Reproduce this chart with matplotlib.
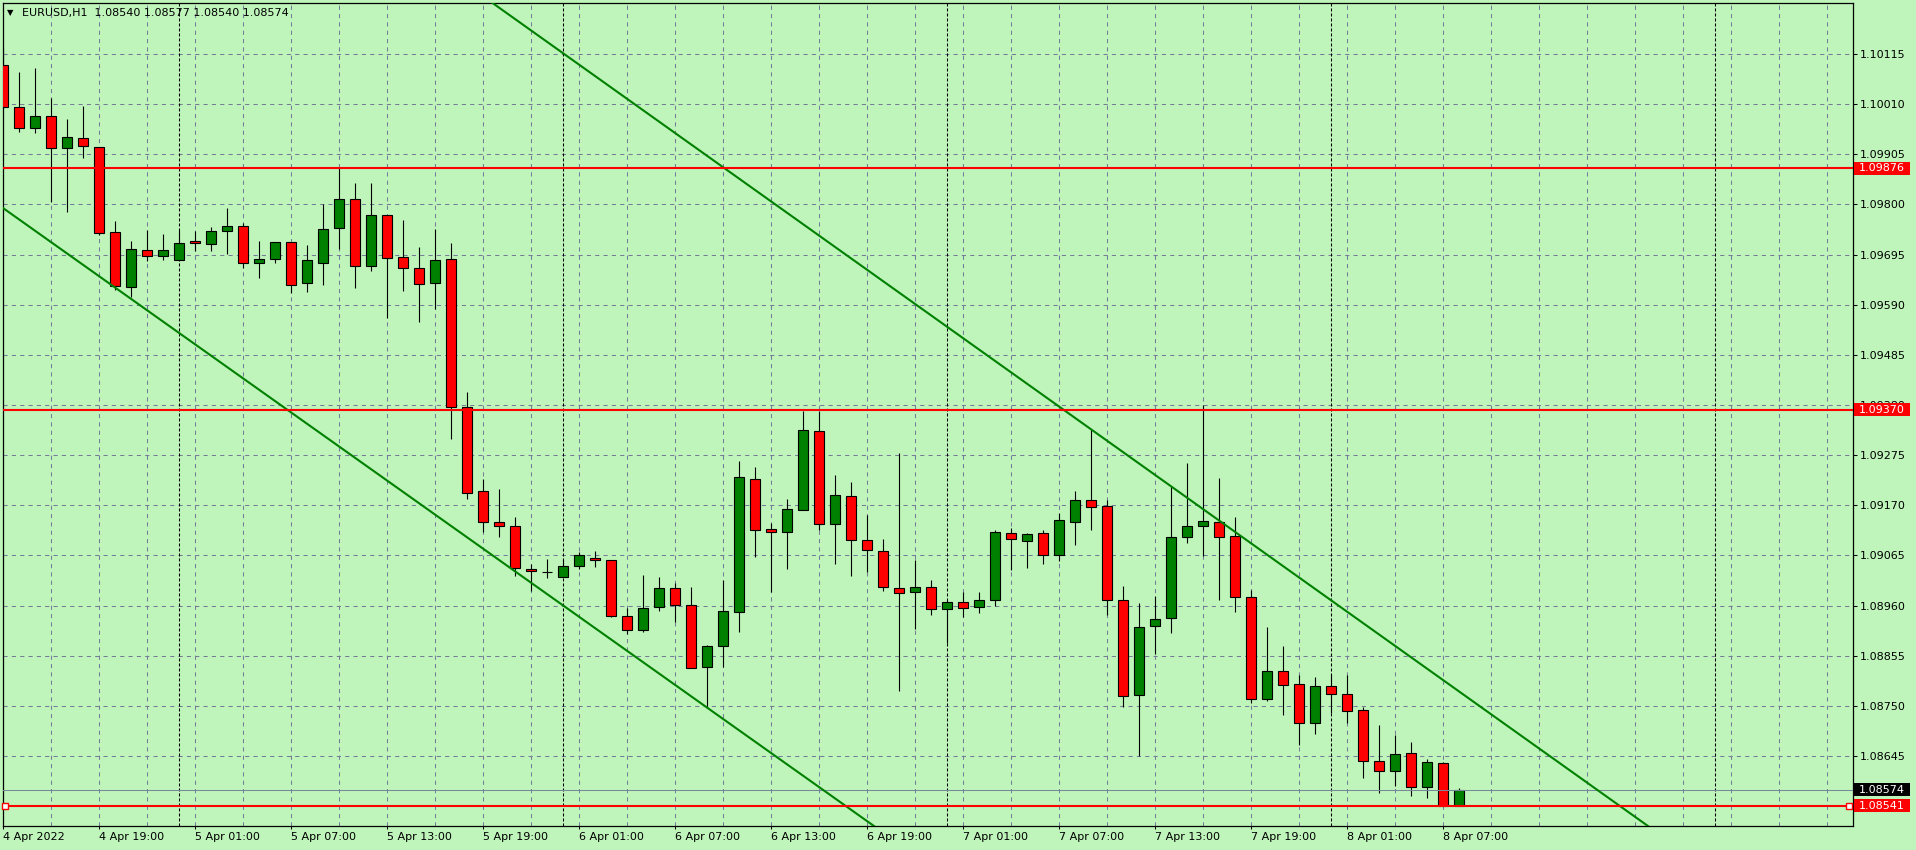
import matplotlib
matplotlib.use('Agg')
import matplotlib.pyplot as plt
import matplotlib.transforms as mtransforms
from matplotlib.patches import Rectangle
import pandas as pd

plt.rcParams['font.family'] = ['DejaVu Sans']
plt.rcParams['lines.scale_dashes'] = False

# chart data (EURUSD, H1)
symbol = 'EURUSD,H1'
start_time = '2022-04-04 13:00'

opens = [1.10091, 1.10003, 1.09961, 1.09985, 1.09918, 1.09939, 1.09920, 1.09742, 1.09628, 1.09704,
         1.09691, 1.09683, 1.09723, 1.09717, 1.09744, 1.09754, 1.09677, 1.09685, 1.09721, 1.09635,
         1.09677, 1.09750, 1.09811, 1.09670, 1.09777, 1.09689, 1.09666, 1.09635, 1.09685, 1.09375,
         1.09199, 1.09134, 1.09126, 1.09036, 1.09031, 1.09019, 1.09042, 1.09059, 1.09055, 1.08938,
         1.08908, 1.08956, 1.08996, 1.08961, 1.08831, 1.08875, 1.08946, 1.09224, 1.09120, 1.09113,
         1.09160, 1.09325, 1.09130, 1.09189, 1.09097, 1.09074, 1.08996, 1.08988, 1.08998, 1.08952,
         1.08967, 1.08956, 1.08971, 1.09111, 1.09095, 1.09111, 1.09065, 1.09134, 1.09180, 1.09168,
         1.08971, 1.08772, 1.08917, 1.08933, 1.09103, 1.09126, 1.09134, 1.09105, 1.08977, 1.08764,
         1.08824, 1.08795, 1.08714, 1.08791, 1.08774, 1.08741, 1.08634, 1.08613, 1.08651, 1.08580,
         1.08630, 1.08540]
highs = [1.10130, 1.10077, 1.10085, 1.10022, 1.09978, 1.10006, 1.09920, 1.09765, 1.09723, 1.09746,
         1.09738, 1.09746, 1.09744, 1.09753, 1.09793, 1.09762, 1.09723, 1.09721, 1.09721, 1.09715,
         1.09800, 1.09877, 1.09844, 1.09844, 1.09777, 1.09767, 1.09710, 1.09748, 1.09719, 1.09407,
         1.09225, 1.09204, 1.09145, 1.09047, 1.09057, 1.09057, 1.09072, 1.09074, 1.09055, 1.08954,
         1.09023, 1.09019, 1.09007, 1.08998, 1.08877, 1.09014, 1.09262, 1.09250, 1.09132, 1.09183,
         1.09367, 1.09367, 1.09233, 1.09218, 1.09150, 1.09099, 1.09279, 1.09055, 1.09014, 1.08972,
         1.08988, 1.08988, 1.09118, 1.09122, 1.09111, 1.09118, 1.09154, 1.09200, 1.09329, 1.09180,
         1.09000, 1.08965, 1.08979, 1.09210, 1.09258, 1.09380, 1.09227, 1.09145, 1.08992, 1.08915,
         1.08875, 1.08815, 1.08810, 1.08816, 1.08815, 1.08748, 1.08710, 1.08690, 1.08674, 1.08638,
         1.08632, 1.08577]
lows = [1.10002, 1.09952, 1.09950, 1.09805, 1.09785, 1.09898, 1.09736, 1.09621, 1.09606, 1.09682,
        1.09684, 1.09683, 1.09703, 1.09703, 1.09696, 1.09667, 1.09645, 1.09677, 1.09615, 1.09617,
        1.09632, 1.09706, 1.09626, 1.09661, 1.09562, 1.09619, 1.09554, 1.09580, 1.09309, 1.09183,
        1.09113, 1.09103, 1.09021, 1.08991, 1.09018, 1.09019, 1.09037, 1.09040, 1.08935, 1.08900,
        1.08904, 1.08949, 1.08925, 1.08829, 1.08745, 1.08832, 1.08905, 1.09062, 1.08988, 1.09037,
        1.09160, 1.09119, 1.09048, 1.09021, 1.09031, 1.08990, 1.08782, 1.08910, 1.08940, 1.08881,
        1.08937, 1.08944, 1.08960, 1.09035, 1.09039, 1.09046, 1.09053, 1.09087, 1.09119, 1.08940,
        1.08747, 1.08645, 1.08859, 1.08902, 1.09092, 1.09063, 1.08972, 1.08946, 1.08757, 1.08760,
        1.08730, 1.08669, 1.08692, 1.08734, 1.08714, 1.08598, 1.08568, 1.08583, 1.08562, 1.08558,
        1.08540, 1.08540]
closes = [1.10005, 1.09959, 1.09985, 1.09918, 1.09941, 1.09923, 1.09740, 1.09630, 1.09706, 1.09691,
          1.09704, 1.09719, 1.09719, 1.09744, 1.09754, 1.09677, 1.09685, 1.09721, 1.09631, 1.09683,
          1.09748, 1.09811, 1.09670, 1.09777, 1.09687, 1.09666, 1.09633, 1.09683, 1.09375, 1.09196,
          1.09134, 1.09126, 1.09038, 1.09032, 1.09031, 1.09042, 1.09065, 1.09055, 1.08938, 1.08908,
          1.08954, 1.08996, 1.08961, 1.08829, 1.08875, 1.08948, 1.09229, 1.09118, 1.09113, 1.09162,
          1.09327, 1.09130, 1.09191, 1.09097, 1.09076, 1.08998, 1.08986, 1.08998, 1.08952, 1.08967,
          1.08954, 1.08971, 1.09113, 1.09099, 1.09109, 1.09065, 1.09139, 1.09180, 1.09166, 1.08971,
          1.08770, 1.08915, 1.08931, 1.09103, 1.09126, 1.09137, 1.09103, 1.08977, 1.08764, 1.08824,
          1.08793, 1.08714, 1.08791, 1.08774, 1.08739, 1.08634, 1.08613, 1.08649, 1.08580, 1.08632,
          1.08540, 1.08574]

y_ticks = [1.10115, 1.10010, 1.09905, 1.09800, 1.09695, 1.09590, 1.09485, 1.09380,
           1.09275, 1.09170, 1.09065, 1.08960, 1.08855, 1.08750, 1.08645]
x_labels = ['4 Apr 2022', '4 Apr 19:00', '5 Apr 01:00', '5 Apr 07:00', '5 Apr 13:00', '5 Apr 19:00',
            '6 Apr 01:00', '6 Apr 07:00', '6 Apr 13:00', '6 Apr 19:00', '7 Apr 01:00', '7 Apr 07:00',
            '7 Apr 13:00', '7 Apr 19:00', '8 Apr 01:00', '8 Apr 07:00']

levels = [1.09876, 1.09370, 1.08541]
bid = 1.08574
channel_low = [(0, 1.09792), (44, 1.08746)]
channel_high = [(63, 1.09448), (100, 1.08565)]

BG = '#BFF5BB'
GRID = '#767B96'
BULL = '#008000'
BEAR = '#FF0000'

W, H = 1916, 850
fig = plt.figure(figsize=(W / 100, H / 100), dpi=100, facecolor=BG)
ax = fig.add_axes([2.5 / W, 24 / H, 1850 / W, 823.5 / H], facecolor=BG)
ax.set_xlim(-0.05, 115.575)
ax.set_ylim(1.084984, 1.102228)

n = len(opens)
idx = list(range(n))
n_slots = 116
times = pd.date_range(start_time, periods=n_slots, freq='h')

# grid
for t in y_ticks:
    ax.axhline(t, color=GRID, lw=0.75, dashes=(3, 3), zorder=1)
for k in range(3, n_slots, 3):
    ax.axvline(k, color=GRID, lw=0.75, dashes=(3, 3), zorder=1)
for k, t in enumerate(times):
    if t.hour == 0:
        ax.axvline(k, color='black', lw=0.75, dashes=(2.2, 1.4), zorder=1.5)

# candles
ax.vlines(idx, lows, highs, color='black', lw=0.8, zorder=2.9)
bottoms = [min(o, c) for o, c in zip(opens, closes)]
heights = [abs(c - o) for o, c in zip(opens, closes)]
colors = [BULL if c > o else BEAR for o, c in zip(opens, closes)]
ax.bar(idx, heights, bottom=bottoms, width=0.62, color=colors,
       edgecolor='black', linewidth=0.8, zorder=3)

# objects
for lv in levels:
    ax.axhline(lv, color='red', lw=1.5, zorder=5)
ax.axhline(bid, color='#778899', lw=0.75, zorder=4)
blend_ax = mtransforms.blended_transform_factory(ax.transAxes, ax.transData)
ax.plot([0.00135, 0.9981], [levels[2], levels[2]], transform=blend_ax, ls='none',
        marker='s', ms=4, mfc='white', mec='red', mew=1, clip_on=False, zorder=6)
ax.axline(channel_low[0], channel_low[1], color=BULL, lw=1.5, zorder=4)
ax.axline(channel_high[0], channel_high[1], color=BULL, lw=1.5, zorder=4)

# axes styling
for s in ax.spines.values():
    s.set_color('black')
    s.set_linewidth(0.9)
ax.yaxis.tick_right()
ax.set_yticks(y_ticks)
ax.set_yticklabels([f'{v:.5f}' for v in y_ticks])
ax.tick_params(axis='y', length=3, width=0.75, pad=2.5, labelsize=8, colors='black')
ax.set_xticks(list(range(0, 6 * len(x_labels), 6)))
ax.set_xticklabels(x_labels, ha='left')
ax.tick_params(axis='x', length=2.5, width=0.75, pad=2, labelsize=8, colors='black')

# price labels on the right
px_per_price = 823.5 / (1.102228 - 1.084984)
box_h = 13 / px_per_price
blend_fig = mtransforms.blended_transform_factory(fig.transFigure, ax.transData)
tags = [(lv, 'red') for lv in levels] + [(bid, 'black')]
for lv, col in tags:
    ax.add_patch(Rectangle((1854 / W, lv - box_h / 2), 56 / W, box_h, transform=blend_fig,
                           facecolor=col, edgecolor='none', clip_on=False, zorder=10))
    ax.text(1858.5 / W, lv, f'{lv:.5f}', transform=blend_fig, color='white', fontsize=8,
            va='center', ha='left', clip_on=False, zorder=11)

# header
ohlc = f'{opens[-1]:.5f} {highs[-1]:.5f} {lows[-1]:.5f} {closes[-1]:.5f}'
fig.text(10.5 / W, 1 - 12.7 / H, '▼', fontsize=6, ha='center', va='center')
fig.text(21.7 / W, 1 - 12.7 / H, f'{symbol}  {ohlc}', fontsize=8, ha='left', va='center')

fig.savefig('out.png', dpi=100, facecolor=BG)
